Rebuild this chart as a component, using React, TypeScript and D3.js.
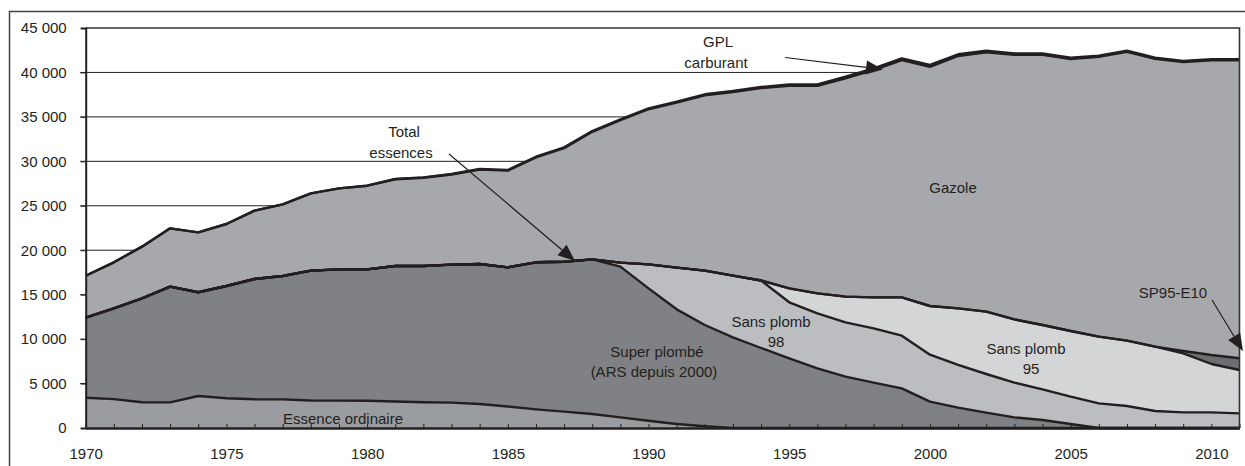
import { useEffect, useRef } from "react";
import * as d3 from "d3";

// Consommation de carburants routiers (kt), 1970-2011
const years = d3.range(1970, 2012);

const essenceOrdinaire = [
  3410, 3250, 2900, 2880, 3600, 3340, 3230, 3220, 3100, 3080, 3070, 2980, 2900, 2850, 2700,
  2420, 2100, 1840, 1580, 1200, 820, 450, 200, 0, 0, 0, 0, 0, 0, 0, 0, 0, 0, 0, 0, 0, 0, 0, 0, 0, 0, 0,
];
const superPlombe = [
  9000, 10210, 11690, 13020, 11670, 12635, 13530, 13880, 14600, 14770, 14780, 15245, 15325, 15525, 15750,
  15655, 16540, 16870, 17395, 16950, 14890, 12900, 11390, 10200, 9000, 7840, 6710, 5775, 5100, 4460,
  2960, 2290, 1725, 1200, 900, 450, 0, 0, 0, 0, 0, 0,
];
const sansPlomb98 = [
  0, 0, 0, 0, 0, 0, 0, 0, 0, 0, 0, 0, 0, 0, 0, 0, 0, 0, 0, 450, 2700, 4690, 6110, 6940, 7600,
  6300, 6190, 6115, 6115, 5930, 5290, 4800, 4350, 3900, 3450, 3075, 2775, 2475, 1910, 1760, 1760, 1650,
];
const sansPlomb95 = [
  0, 0, 0, 0, 0, 0, 0, 0, 0, 0, 0, 0, 0, 0, 0, 0, 0, 0, 0, 0, 0, 0, 0, 0, 0,
  1570, 2250, 2885, 3485, 4310, 5475, 6370, 7015, 7125, 7240, 7385, 7500, 7350, 7240, 6640, 5440, 4875,
];
const sp95E10 = [
  0, 0, 0, 0, 0, 0, 0, 0, 0, 0, 0, 0, 0, 0, 0, 0, 0, 0, 0, 0, 0, 0, 0, 0, 0, 0, 0, 0, 0, 0,
  0, 0, 0, 0, 0, 0, 0, 0, 0, 260, 1010, 1315,
];
const gazole = [
  4720, 5180, 5810, 6560, 6740, 6975, 7690, 8060, 8700, 9110, 9410, 9755, 9935, 10150, 10630,
  10880, 11800, 12780, 14345, 16040, 17450, 18570, 19730, 20650, 21630, 22800, 23340, 24555, 25560, 26680,
  26915, 28390, 29180, 29755, 30400, 30600, 31475, 32495, 32390, 32520, 33160, 33530,
];
const gplCarburant = [
  0, 0, 0, 0, 0, 0, 0, 0, 0, 0, 0, 30, 40, 50, 60, 70, 80, 90, 90, 90, 100, 100, 110, 120, 130,
  150, 170, 190, 200, 210, 200, 190, 180, 170, 160, 150, 140, 130, 120, 110, 110, 110,
];

const yTicks = [0, 5000, 10000, 15000, 20000, 25000, 30000, 35000, 40000, 45000];
const xLabels = [1970, 1975, 1980, 1985, 1990, 1995, 2000, 2005, 2010];

const series = [
  { key: "eo", values: essenceOrdinaire, fill: "#9b9c9f" },
  { key: "spb", values: superPlombe, fill: "#808184" },
  { key: "sp98", values: sansPlomb98, fill: "#bcbdc0" },
  { key: "sp95", values: sansPlomb95, fill: "#d4d5d7" },
  { key: "e10", values: sp95E10, fill: "#6d6e71" },
  { key: "gazole", values: gazole, fill: "#a7a8ab" },
  { key: "gpl", values: gplCarburant, fill: "#231f20" },
];

const labels = [
  { lines: ["GPL", "carburant"], x: [718, 716], y: [47, 68] },
  { lines: ["Total", "essences"], x: [404, 401], y: [137, 158] },
  { lines: ["Gazole"], x: [953], y: [193] },
  { lines: ["Super plombé", "(ARS depuis 2000)"], x: [657, 654], y: [356.5, 376.5] },
  { lines: ["Sans plomb", "98"], x: [771, 776], y: [326.5, 347] },
  { lines: ["Sans plomb", "95"], x: [1026, 1031], y: [354, 374] },
  { lines: ["SP95-E10"], x: [1173], y: [297.5] },
  { lines: ["Essence ordinaire"], x: [343], y: [424] },
];

// arrows: [x1, y1, x2(tip), y2(tip)]
const arrows = [
  [449, 154, 575, 261],
  [785, 57.5, 883, 69.5],
  [1212, 300, 1243, 351],
];

const INK = "#231f20";
const FONT = "'Liberation Sans', Arial, sans-serif";
const FS = 15;

const App = () => {
  const ref = useRef(null);

  useEffect(() => {
    const svg = d3.select(ref.current);
    svg.selectAll("*").remove();

    const width = 1245;
    const height = 466;
    const left = 85.7;
    const right = 1239.5;
    const top = 28;
    const bottom = 428;

    svg.attr("width", width).attr("height", height);

    const x = d3.scaleLinear().domain([1970, 2011]).range([left, right]);
    const y = d3.scaleLinear().domain([0, 45000]).range([bottom, top]);

    const fr = d3.formatLocale({ decimal: ",", thousands: " ", grouping: [3], currency: ["", " €"] });
    const fmt = fr.format(",d");

    // outer frame
    svg
      .append("rect")
      .attr("x", 9.5)
      .attr("y", 11.5)
      .attr("width", 1245)
      .attr("height", 470)
      .attr("fill", "white")
      .attr("stroke", "#444")
      .attr("stroke-width", 1.5);

    // grid lines (behind the areas)
    svg
      .append("g")
      .selectAll("line")
      .data(yTicks.filter((d) => d > 0 && d < 45000))
      .join("line")
      .attr("x1", left - 5.5)
      .attr("x2", right)
      .attr("y1", (d) => y(d))
      .attr("y2", (d) => y(d))
      .attr("stroke", INK)
      .attr("stroke-width", 1);

    // stacked areas
    const table = years.map((yr, i) => {
      const row = { year: yr };
      series.forEach((s) => (row[s.key] = s.values[i]));
      return row;
    });
    const stacked = d3.stack().keys(series.map((s) => s.key))(table);

    const area = d3
      .area()
      .x((d) => x(d.data.year))
      .y0((d) => y(d[0]))
      .y1((d) => y(d[1]));

    const topLine = d3
      .line()
      .x((d) => x(d.data.year))
      .y((d) => y(d[1]));

    svg
      .append("g")
      .selectAll("path")
      .data(stacked)
      .join("path")
      .attr("fill", (d, i) => series[i].fill)
      .attr("d", area);

    svg
      .append("g")
      .selectAll("path")
      .data(stacked)
      .join("path")
      .attr("fill", "none")
      .attr("stroke", INK)
      .attr("stroke-width", 2.4)
      .attr("stroke-linejoin", "round")
      .attr("d", topLine);

    // plot border (top + right)
    svg
      .append("path")
      .attr("d", `M${left},${top}H${right}V${bottom}`)
      .attr("fill", "none")
      .attr("stroke", "#333")
      .attr("stroke-width", 1.6);

    // y axis
    const yAxis = svg
      .append("g")
      .attr("transform", `translate(${left},0)`)
      .call(d3.axisLeft(y).tickValues(yTicks).tickSize(5).tickPadding(14).tickFormat(fmt));
    yAxis.select(".domain").attr("stroke", INK).attr("stroke-width", 2);
    yAxis.selectAll(".tick line").attr("stroke", INK);
    yAxis
      .selectAll("text")
      .attr("font-family", FONT)
      .attr("font-size", FS)
      .attr("fill", INK);

    // x axis: a tick every year, label every 5 years
    const xAxis = svg
      .append("g")
      .attr("transform", `translate(0,${bottom})`)
      .call(
        d3
          .axisBottom(x)
          .tickValues(years)
          .tickSize(-4)
          .tickSizeOuter(0)
          .tickPadding(20)
          .tickFormat((d) => (xLabels.includes(d) ? String(d) : ""))
      );
    xAxis.select(".domain").attr("stroke", INK).attr("stroke-width", 2.5);
    xAxis.selectAll(".tick line").attr("stroke", INK);
    xAxis
      .selectAll("text")
      .attr("font-family", FONT)
      .attr("font-size", FS)
      .attr("fill", INK);

    // annotations
    const ann = svg.append("g").attr("font-family", FONT).attr("font-size", FS).attr("fill", INK);
    labels.forEach((l) => {
      l.lines.forEach((t, i) => {
        ann.append("text").attr("x", l.x[i]).attr("y", l.y[i]).attr("text-anchor", "middle").text(t);
      });
    });

    // arrows
    const arr = svg.append("g");
    arrows.forEach(([x1, y1, x2, y2]) => {
      const a = Math.atan2(y2 - y1, x2 - x1);
      const len = 17;
      const hw = 7;
      const bx = x2 - len * Math.cos(a);
      const by = y2 - len * Math.sin(a);
      arr
        .append("line")
        .attr("x1", x1)
        .attr("y1", y1)
        .attr("x2", bx)
        .attr("y2", by)
        .attr("stroke", INK)
        .attr("stroke-width", 1.2);
      const pts = [
        [x2, y2],
        [bx + hw * Math.sin(a), by - hw * Math.cos(a)],
        [bx - hw * Math.sin(a), by + hw * Math.cos(a)],
      ];
      arr.append("polygon").attr("points", pts.map((p) => p.join(",")).join(" ")).attr("fill", INK);
    });
  }, []);

  return (
    <div style={{ position: "absolute", left: 0, top: 0, background: "white" }}>
      <svg ref={ref}></svg>
    </div>
  );
};

export default App;
